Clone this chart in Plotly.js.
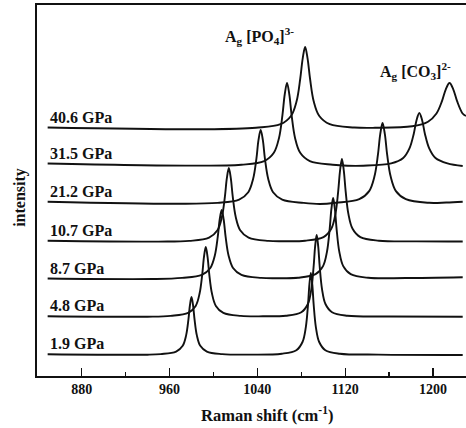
<!DOCTYPE html>
<html>
<head>
<meta charset="utf-8">
<script src="https://cdn.plot.ly/plotly-3.0.1.min.js"></script>
<style>html,body{margin:0;padding:0;background:#fff;}#chart{width:466px;height:428px;}</style>
</head>
<body>
<div id="chart"></div>
<script>
// Raman shift (cm-1) and intensity (a.u.)
const pressures = ['1.9 GPa', '4.8 GPa', '8.7 GPa', '10.7 GPa', '21.2 GPa', '31.5 GPa', '40.6 GPa'];

const x_1_9 = [849, 940, 952, 966, 972, 975.1, 977.2, 978.6, 980, 981.4, 982.8, 984.9, 988, 994, 1008, 1035, 1062.3, 1075.5, 1081.1, 1084.1, 1086.1, 1087.4, 1088.7, 1090, 1091.3, 1093.3, 1096.3, 1101.9, 1115.1, 1150, 1227];
const y_1_9 = [21.8, 21.3, 21.9, 24.4, 30.2, 40.6, 56.4, 71, 79, 71, 56.4, 40.6, 30.2, 24.4, 21.9, 21.4, 22.3, 25.8, 34, 48.7, 71, 91.7, 103, 91.7, 71, 48.7, 34, 25.8, 22.3, 21.4, 21];

const x_4_8 = [849, 940, 961, 977, 983.8, 987.4, 989.8, 991.4, 993, 994.6, 996.2, 998.6, 1002.2, 1009, 1025, 1045, 1066, 1080, 1086, 1089.1, 1091.2, 1092.6, 1094, 1095.4, 1096.8, 1098.9, 1102, 1108, 1122, 1160, 1227];
const y_4_8 = [59.8, 59.3, 60.1, 63.1, 70.1, 82.7, 101.7, 119.3, 129, 119.3, 101.7, 82.7, 70.1, 63.1, 60.1, 59.7, 60.3, 63.8, 72, 86.7, 109, 129.7, 141, 129.7, 109, 86.7, 72, 63.8, 60.3, 59.5, 59.2];

const x_8_7 = [849, 945, 971.5, 989.5, 997.15, 1001.2, 1003.9, 1005.7, 1007.5, 1009.3, 1011.1, 1013.8, 1017.85, 1025.5, 1043.5, 1060, 1077, 1093, 1099.8, 1103.4, 1105.8, 1107.4, 1109, 1110.6, 1112.2, 1114.6, 1118.2, 1125, 1141, 1175, 1227];
const y_8_7 = [97.5, 97, 98.1, 101.1, 108, 120.3, 139.1, 156.5, 166, 156.5, 139.1, 120.3, 108, 101.1, 98.1, 97.8, 98.2, 101.8, 109.9, 124.4, 146.4, 166.8, 178, 166.8, 146.4, 124.4, 109.9, 101.8, 98.2, 98, 98.8];

const x_10_7 = [849, 950, 978, 996, 1003.65, 1007.7, 1010.4, 1012.2, 1014, 1015.8, 1017.6, 1020.3, 1024.35, 1032, 1050, 1066, 1083.4, 1100.2, 1107.3, 1111.1, 1113.6, 1115.3, 1117, 1118.7, 1120.4, 1122.9, 1126.7, 1133.8, 1150.6, 1185, 1227];
const y_10_7 = [135.3, 134.4, 135.1, 138.4, 145.8, 159, 179.1, 197.8, 208, 197.8, 179.1, 159, 145.8, 138.4, 135.1, 134.8, 135.3, 138.9, 147.2, 162.1, 184.6, 205.5, 217, 205.5, 184.6, 162.1, 147.2, 138.9, 135.3, 134.6, 134.5];

const x_21_2 = [849, 965, 1003.8, 1023.4, 1031.7, 1036.1, 1039.1, 1041, 1043, 1045, 1046.9, 1049.9, 1054.3, 1062.6, 1082.2, 1097, 1111.6, 1132.8, 1141.8, 1146.6, 1149.8, 1151.9, 1154, 1156.1, 1158.2, 1161.4, 1166.2, 1175.2, 1196.4, 1212, 1227];
const y_21_2 = [174.3, 172.3, 173.1, 176.4, 183.8, 197, 217.1, 235.8, 246, 235.8, 217.1, 197, 183.8, 176.4, 173.1, 172, 173.2, 176.8, 184.9, 199.4, 221.4, 241.8, 253, 241.8, 221.4, 199.4, 184.9, 176.8, 173.2, 173.5, 174.3];

const x_31_5 = [849, 975, 1025.4, 1046.2, 1055, 1059.7, 1062.8, 1064.9, 1067, 1069.1, 1071.2, 1074.3, 1079, 1087.8, 1108.6, 1122, 1136.3, 1161.9, 1172.8, 1178.5, 1182.4, 1184.9, 1187.5, 1190.1, 1192.6, 1196.5, 1202.2, 1213.1, 1227];
const y_31_5 = [212.5, 210.4, 211.3, 214.9, 223.2, 238.1, 260.6, 281.5, 293, 281.5, 260.6, 238.1, 223.2, 214.9, 211.3, 210.3, 210.3, 212.6, 218, 227.6, 242.1, 255.6, 263, 255.6, 242.1, 227.6, 218, 212.6, 210];

const x_40_6 = [849, 990, 1038.7, 1061.1, 1070.6, 1075.7, 1079, 1081.3, 1083.5, 1085.7, 1088, 1091.3, 1096.4, 1105.9, 1128.3, 1147, 1181, 1195.4, 1203.1, 1208.2, 1211.6, 1215, 1218.4, 1221.8, 1226.9, 1230];
const y_40_6 = [248.5, 246.8, 248.3, 251.8, 260, 274.7, 297, 317.7, 329, 317.7, 297, 274.7, 260, 251.8, 248.5, 248.2, 249.7, 254.3, 262.5, 275.1, 286.7, 293, 286.7, 275.1, 262.5, 260];

const xTickVals = [880, 960, 1040, 1120, 1200];
const bandLabels = ['A<sub>g</sub> [PO<sub>4</sub>]<sup>3-</sup>', 'A<sub>g</sub> [CO<sub>3</sub>]<sup>2-</sup>'];
const bandLabelX = [1008.4, 1149.8];
const bandLabelY = [340, 305];

const series = [[x_1_9, y_1_9], [x_4_8, y_4_8], [x_8_7, y_8_7], [x_10_7, y_10_7], [x_21_2, y_21_2], [x_31_5, y_31_5], [x_40_6, y_40_6]];

const FONT = 'Liberation Serif, Times New Roman, serif';
const INK = '#111111';

const traces = series.map((s, i) => ({
  x: s[0], y: s[1], type: 'scatter', mode: 'lines', name: pressures[i],
  line: {color: INK, width: 1.9, shape: 'spline', smoothing: 1},
  hoverinfo: 'x+y+name'
}));

const annotations = [];
series.forEach((s, i) => {
  annotations.push({
    x: s[0][0], y: s[1][0], xref: 'x', yref: 'y', xanchor: 'left', yanchor: 'bottom',
    text: pressures[i], showarrow: false,
    font: {family: FONT, size: 16, color: INK, weight: 'bold'}
  });
});
bandLabels.forEach((t, i) => {
  annotations.push({
    x: bandLabelX[i], y: bandLabelY[i], xref: 'x', yref: 'y', xanchor: 'left', yanchor: 'middle',
    text: t, showarrow: false,
    font: {family: FONT, size: 16, color: INK, weight: 'bold'}
  });
});
annotations.push({
  x: 0.536, y: -0.105, xref: 'paper', yref: 'paper', xanchor: 'center', yanchor: 'middle',
  text: 'Raman shift (cm<sup>-1</sup>)', showarrow: false,
  font: {family: FONT, size: 16.5, color: INK, weight: 'bold'}
});
annotations.push({
  x: -0.04, y: 0.4825, xref: 'paper', yref: 'paper', xanchor: 'center', yanchor: 'middle',
  text: 'intensity', textangle: -90, showarrow: false,
  font: {family: FONT, size: 16, color: INK, weight: 'bold'}
});

const layout = {
  width: 466, height: 428,
  margin: {l: 37, r: 0, t: 5, b: 52, pad: 0},
  paper_bgcolor: '#ffffff', plot_bgcolor: '#ffffff',
  showlegend: false,
  xaxis: {
    range: [839.3, 1230], showgrid: false, zeroline: false,
    showline: true, linecolor: INK, linewidth: 1.6, mirror: true,
    tickmode: 'array', tickvals: xTickVals,
    ticks: 'inside', ticklen: 8, tickwidth: 1.4, tickcolor: INK,
    minor: {tickmode: 'array', tickvals: [920, 1000, 1080, 1160], ticks: 'inside', ticklen: 4, tickwidth: 1.4, tickcolor: INK},
    tickfont: {family: FONT, size: 14, color: INK, weight: 'bold'}
  },
  yaxis: {
    range: [0, 371], showgrid: false, zeroline: false,
    showline: true, linecolor: INK, linewidth: 1.6,
    showticklabels: false, ticks: ''
  },
  annotations: annotations
};

Plotly.newPlot('chart', traces, layout, {displayModeBar: false, staticPlot: true});
</script>
</body>
</html>
